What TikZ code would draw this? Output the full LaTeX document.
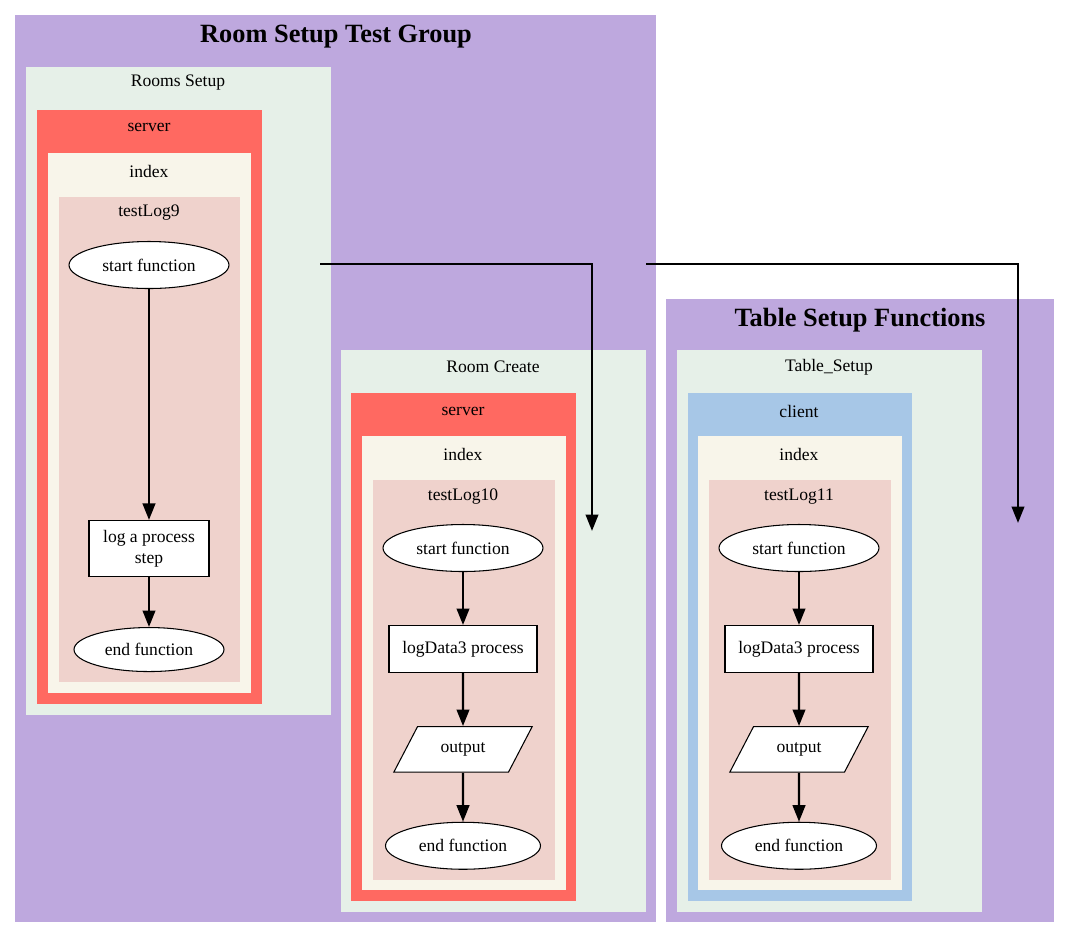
\documentclass[tikz,border=0pt]{standalone}
\usepackage{fontspec}
\setmainfont{Liberation Serif}
\usetikzlibrary{arrows.meta,shapes.geometric,positioning}
\definecolor{groupcolor}{RGB}{190,168,222}
\definecolor{filecolor}{RGB}{230,240,232}
\definecolor{servercolor}{RGB}{255,105,97}
\definecolor{clientcolor}{RGB}{167,199,231}
\definecolor{indexcolor}{RGB}{248,245,234}
\definecolor{logcolor}{RGB}{239,210,204}
\newcommand{\diagfont}{\fontsize{10}{12}\selectfont}
\newcommand{\titlefont}{\fontsize{15}{18}\selectfont\bfseries}
\tikzset{
	func/.style={
		ellipse,
		draw=black,
		line width=0.6pt,
		fill=white,
		minimum width=3.2cm,
		minimum height=0.94cm,
		inner sep=0pt,
		font=\diagfont
	},
	process/.style={
		rectangle,
		draw=black,
		line width=0.6pt,
		fill=white,
		minimum width=2.96cm,
		minimum height=0.94cm,
		align=center,
		font=\diagfont
	},
	outbox/.style={
		trapezium,
		trapezium left angle=62.5,
		trapezium right angle=117.5,
		draw=black,
		line width=0.6pt,
		fill=white,
		inner xsep=0.46cm,
		inner ysep=0.32cm,
		font=\diagfont
	},
	label/.style={
		font=\diagfont
	},
	title/.style={
		font=\titlefont
	},
	arrow/.style={
		draw=black,
		line width=1.4pt,
		-{Triangle[length=3.3mm,width=2.5mm]}
	},
}

\begin{document}
\begin{tikzpicture}[x=0.02cm,y=-0.02cm]
		\useasboundingbox (0,0) rectangle (1069,938);
		% Room Setup Test Group
		\fill[groupcolor] (15,15) rectangle (656,922);
		\node (roomgroup) [title] at (336,37) {Room Setup Test Group};
		\fill[filecolor] (26,67) rectangle (331,715);
		\node (roomsetup) [label] at (178,83) {Rooms Setup};
		\fill[servercolor] (37,110) rectangle (262,704);
		\node (server9) [label] at (149,127) {server};
		\fill[indexcolor] (48,153) rectangle (251,693);
		\node (index9) [label] at (149,171) {index};
		\fill[logcolor] (59,197) rectangle (240,682);
		\node (testlog9) [label] at (149,213) {testLog9};
		\node (start9) [func] at (149,265) {start function};
		\node (step9) [process, minimum width=2.4cm, minimum height=1.12cm, below = 4.62cm of start9] {log a process\\step};
		\node (end9) [func, minimum width=3cm, minimum height=0.88cm, below = 1cm of step9] {end function};
		\draw [arrow] (start9) -- (step9);
		\draw [arrow] (step9) -- (end9);
		% Room Create
		\fill[filecolor] (341,350) rectangle (646,912);
		\node (roomcreate) [label] at (493,367) {Room Create};
		\fill[servercolor] (351,393) rectangle (576,901);
		\node (server10) [label] at (463,411) {server};
		\fill[indexcolor] (362,436) rectangle (566,890);
		\node (index10) [label] at (463,454) {index};
		\fill[logcolor] (373,480) rectangle (555,880);
		\node (testlog10) [label] at (463,497) {testLog10};
		\node (start10) [func] at (463,548) {start function};
		\node (data10) [process, below = 1.06cm of start10] {logData3 process};
		\node (out10) [outbox, below = 1.06cm of data10] {output};
		\node (end10) [func, minimum width=3.1cm, below = 0.98cm of out10] {end function};
		\draw [arrow] (start10) -- (data10);
		\draw [arrow] (data10) -- (out10);
		\draw [arrow] (out10) -- (end10);
		% Table Setup Functions
		\fill[groupcolor] (666,299) rectangle (1054,922);
		\node (tablegroup) [title] at (860,320) {Table Setup Functions};
		\fill[filecolor] (677,350) rectangle (982,912);
		\node (tablesetup) [label] at (829,367) {Table\_Setup};
		\fill[clientcolor] (688,393) rectangle (912,901);
		\node (client11) [label] at (799,411) {client};
		\fill[indexcolor] (698,436) rectangle (902,890);
		\node (index11) [label] at (799,454) {index};
		\fill[logcolor] (709,480) rectangle (891,880);
		\node (testlog11) [label] at (799,497) {testLog11};
		\node (start11) [func] at (799,548) {start function};
		\node (data11) [process, below = 1.06cm of start11] {logData3 process};
		\node (out11) [outbox, below = 1.06cm of data11] {output};
		\node (end11) [func, minimum width=3.1cm, below = 0.98cm of out11] {end function};
		\draw [arrow] (start11) -- (data11);
		\draw [arrow] (data11) -- (out11);
		\draw [arrow] (out11) -- (end11);
		% edges between the clusters
		\coordinate (tail1) at (320,264);
		\coordinate (head1) at (592,531);
		\coordinate (tail2) at (646,264);
		\coordinate (head2) at (1018,523);
		\draw [arrow] (tail1) -| (head1);
		\draw [arrow] (tail2) -| (head2);
\end{tikzpicture}
\end{document}
